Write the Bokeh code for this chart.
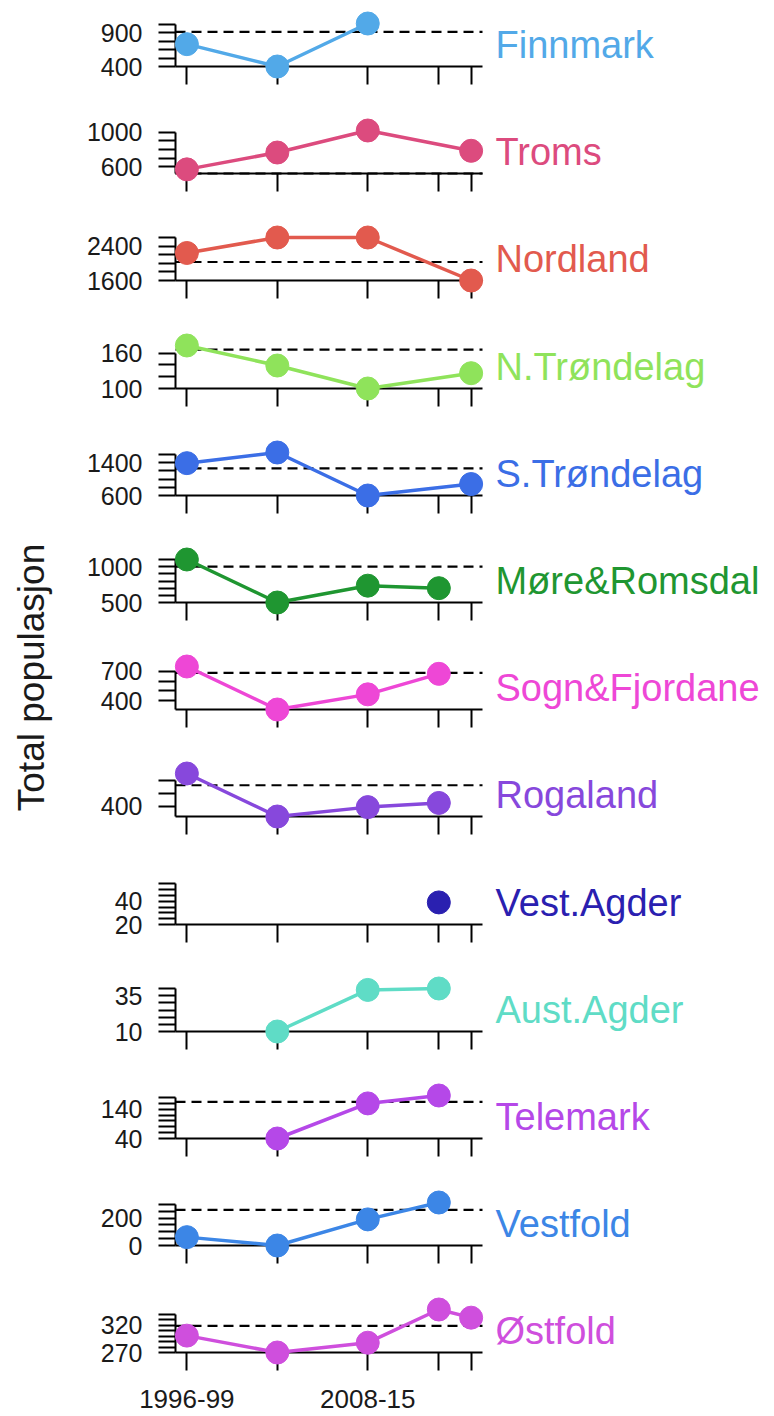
import math
from bokeh.plotting import figure
from bokeh.layouts import row, column
from bokeh.models import Range1d, FixedTicker, Label
from bokeh.embed import file_html
from bokeh.resources import INLINE

# ---------------- data ----------------
period_pos = [1997.5, 2004.5, 2011.5, 2017.0, 2019.5]
period_labels = ["1996-99", "", "2008-15", "", ""]

counties = ["Finnmark", "Troms", "Nordland", "N.Trøndelag", "S.Trøndelag",
            "Møre&Romsdal", "Sogn&Fjordane", "Rogaland", "Vest.Agder",
            "Aust.Agder", "Telemark", "Vestfold", "Østfold"]

finnmark = [730, 400, 1035, None, None]
troms = [570, 765, 1020, None, 785]
nordland = [2240, 2600, 2600, None, 1600]
n_trondelag = [173, 139, 100, None, 126]
s_trondelag = [1390, 1650, 600, None, 880]
more_romsdal = [1100, 500, 735, 700, None]
sogn_fjordane = [750, 310, 465, 675, None]
rogaland = [650, 320, 392, 424, None]
vest_agder = [None, None, None, 39, None]
aust_agder = [None, 10, 39, 40, None]
telemark = [None, 40, 160, 187, None]
vestfold = [61, 0, 190, 313, None]
ostfold = [301, 270, 288, 349, 334]

series = [finnmark, troms, nordland, n_trondelag, s_trondelag, more_romsdal,
          sogn_fjordane, rogaland, vest_agder, aust_agder, telemark, vestfold, ostfold]

reference = [910, 522, 2030, 166, 1260, 1000, 685, 560, None, None, 165, 259, 319]

y_tick_labels = [[400, 900], [600, 1000], [1600, 2400], [100, 160], [600, 1400],
                 [500, 1000], [400, 700], [400], [20, 40], [10, 35], [40, 140],
                 [0, 200], [270, 320]]
y_tick_step = [125, 100, 200, 20, 200, 100, 100, 100, 5, 5, 20, 50, 10]
single_value_limits = (20, 57)

colors = ["#52A9E8", "#DC4B7E", "#E25A4E", "#8FE35B", "#3B6EE6", "#1F9631",
          "#EE47D6", "#8748DC", "#2A20B0", "#5FDCC6", "#B548E8", "#3C86E6", "#CF4FDD"]

y_title = "Total populasjon"

# ---------------- layout constants ----------------
FONT = "Liberation Sans"
TEXT_COLOR = "#1a1a1a"
TOTAL_H = 1416
TOTAL_W = 774
TITLE_W = 62
PANEL_W = TOTAL_W - TITLE_W
AXIS_OFF = 175 - TITLE_W   # y axis position inside a panel
PLOT_W = 307               # width of the plotted x extent
DATA_TOP = 23              # px from panel top to the highest value
DATA_H = 43
STEP = 107.2

tops = [round(STEP * i) for i in range(len(counties))] + [TOTAL_H]
heights = [tops[i + 1] - tops[i] for i in range(len(counties))]

x0, x1 = min(period_pos), max(period_pos)
xpad = 0.04 * (x1 - x0)
xs_start, xs_end = x0 - xpad, x1 + xpad
px_per_x = PLOT_W / (xs_end - xs_start)
xr_start = xs_start - AXIS_OFF / px_per_x
xr_end = xr_start + PANEL_W / px_per_x

panels = []
n = len(counties)
for i in range(n):
    vals = series[i]
    ref = reference[i]
    col = colors[i]
    h = heights[i]
    pts = [(period_pos[j], v) for j, v in enumerate(vals) if v is not None]
    allv = [v for _, v in pts] + ([ref] if ref is not None else [])
    lo, hi = min(allv), max(allv)
    if hi == lo:
        lo, hi = single_value_limits
    px_per_y = DATA_H / (hi - lo)
    y_start = lo - (h - DATA_TOP - DATA_H) / px_per_y
    y_end = hi + DATA_TOP / px_per_y

    p = figure(width=PANEL_W, height=h, output_backend="svg", toolbar_location=None,
               x_range=Range1d(xr_start, xr_end),
               y_range=Range1d(y_start, y_end),
               min_border=0, min_border_left=0, min_border_right=0,
               min_border_top=0, min_border_bottom=0)
    p.outline_line_color = None
    p.grid.visible = False
    p.background_fill_color = "white"
    p.border_fill_color = "white"

    # y axis ticks
    step = y_tick_step[i]
    base = y_tick_labels[i][0]
    tol = (hi - lo) * 0.01
    all_ticks = []
    for k in range(-60, 61):
        t = base + k * step
        if lo - tol <= t <= hi + tol:
            all_ticks.append(t)
    minor = [t for t in all_ticks if t not in y_tick_labels[i]]
    ya = p.yaxis[0]
    ya.ticker = FixedTicker(ticks=y_tick_labels[i], minor_ticks=minor)
    ya.fixed_location = xs_start
    ya.bounds = (lo, max(all_ticks))
    ya.axis_line_width = 2
    ya.axis_line_color = "black"
    ya.major_tick_line_width = 2
    ya.minor_tick_line_width = 2
    ya.major_tick_line_color = "black"
    ya.minor_tick_line_color = "black"
    ya.major_tick_out = 17
    ya.major_tick_in = 0
    ya.minor_tick_out = 17
    ya.minor_tick_in = 0
    ya.major_label_standoff = 16
    ya.major_label_text_font = FONT
    ya.major_label_text_font_size = "25px"
    ya.major_label_text_color = TEXT_COLOR
    ya.level = "underlay"

    # x axis
    xa = p.xaxis[0]
    xa.ticker = FixedTicker(ticks=period_pos)
    if i == n - 1:
        xa.major_label_overrides = {pos: lab for pos, lab in zip(period_pos, period_labels)}
    else:
        xa.major_label_overrides = {pos: "" for pos in period_pos}
    xa.fixed_location = lo
    xa.bounds = (xs_start, xs_end)
    xa.axis_line_width = 2
    xa.axis_line_color = "black"
    xa.major_tick_line_width = 2
    xa.major_tick_line_color = "black"
    xa.major_tick_out = 18
    xa.major_tick_in = 0
    xa.minor_tick_out = 0
    xa.minor_tick_in = 0
    xa.major_label_standoff = 19
    xa.major_label_text_font = FONT
    xa.major_label_text_font_size = "26px"
    xa.major_label_text_color = TEXT_COLOR
    xa.level = "underlay"

    if ref is not None:
        p.segment(x0=[xs_start], y0=[ref], x1=[xs_end], y1=[ref], line_color="black",
                  line_width=2.2, line_dash="10 6")

    xs = [a for a, _ in pts]
    ys = [b for _, b in pts]
    if len(xs) > 1:
        p.line(xs, ys, line_width=3.5, line_color=col)
    p.scatter(xs, ys, size=23, fill_color=col, line_color=col)

    p.add_layout(Label(x=xs_end, y=(lo + hi) / 2, x_offset=13, text=counties[i],
                       text_color=col, text_font=FONT, text_font_size="38px",
                       text_align="left", text_baseline="middle"))
    panels.append(p)

# title column
t = figure(width=TITLE_W, height=TOTAL_H, output_backend="svg", toolbar_location=None,
           x_range=Range1d(0, TITLE_W), y_range=Range1d(0, TOTAL_H),
           x_axis_type=None, y_axis_type=None, min_border=0,
           min_border_left=0, min_border_right=0, min_border_top=0, min_border_bottom=0)
t.outline_line_color = None
t.grid.visible = False
t.add_layout(Label(x=31, y=TOTAL_H - 677, text=y_title, angle=math.pi / 2,
                   text_align="center", text_baseline="middle", text_font=FONT,
                   text_font_size="37px", text_color=TEXT_COLOR))

layout = row(t, column(*panels))
open("out.html", "w").write(file_html(layout, INLINE))
